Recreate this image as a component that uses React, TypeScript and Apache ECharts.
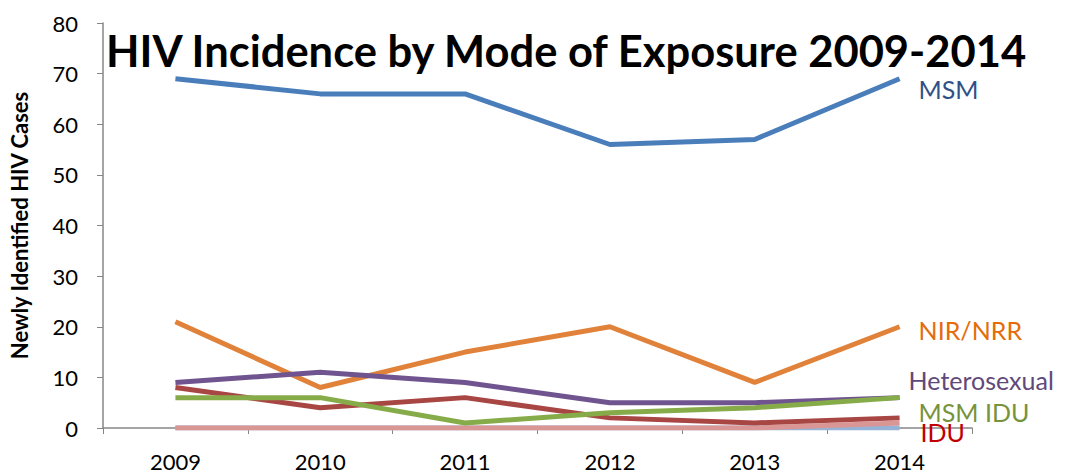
import React, { useEffect, useRef } from "react";
import * as echarts from "echarts";

const years = ["2009", "2010", "2011", "2012", "2013", "2014"];
const msm = [69, 66, 66, 56, 57, 69];
const nirNrr = [21, 8, 15, 20, 9, 20];
const hetero = [9, 11, 9, 5, 5, 6];
const idu = [8, 4, 6, 2, 1, 2];
const msmIdu = [6, 6, 1, 3, 4, 6];
const other1 = [0, 0, 0, 0, 0, 0];
const other2 = [0, 0, 0, 0, 0, 1];

const FONT = "Lato";

export default function App() {
  const ref = useRef<HTMLDivElement>(null);
  useEffect(() => {
    const chart = echarts.init(ref.current!, null, { renderer: "svg" });
    const line = (name: string, data: number[], color: string, label?: any) => ({
      name,
      type: "line",
      data,
      symbol: "none",
      lineStyle: { color, width: 5 },
      itemStyle: { color },
      endLabel: label
        ? {
            show: true,
            formatter: name,
            color: label.color,
            fontFamily: FONT,
            fontSize: 25,
            distance: label.distance,
            offset: label.offset,
          }
        : { show: false },
    });
    chart.setOption({
      animation: false,
      title: {
        text: "HIV Incidence by Mode of Exposure 2009-2014",
        left: 101,
        top: 23,
        textStyle: { fontFamily: FONT, fontWeight: "bold", fontSize: 43.5, color: "#000" },
      },
      grid: { left: 95, right: 95, top: 23, bottom: 46, containLabel: false },
      xAxis: {
        type: "category",
        data: years,
        boundaryGap: true,
        axisLine: { lineStyle: { color: "#868686", width: 1.5 } },
        axisTick: { show: true, length: 6, lineStyle: { color: "#868686" } },
        axisLabel: { fontFamily: FONT, fontSize: 22, color: "#000", margin: 22 },
      },
      yAxis: {
        type: "value",
        min: 0,
        max: 80,
        interval: 10,
        name: "Newly Identified HIV Cases",
        nameLocation: "middle",
        nameGap: 73,
        nameTextStyle: { fontFamily: FONT, fontWeight: "bold", fontSize: 22, color: "#000" },
        axisLine: { show: true, lineStyle: { color: "#868686", width: 1.5 } },
        axisTick: { show: true, length: 6, lineStyle: { color: "#868686" } },
        axisLabel: { fontFamily: FONT, fontSize: 22, color: "#000", margin: 25 },
        splitLine: { show: false },
      },
      series: [
        line("Other", other1, "#95B3D7"),
        line("Other2", other2, "#D99694"),
        line("MSM", msm, "#4A7EBB", { color: "#2F5188", distance: 19, offset: [0, 10] }),
        line("NIR/NRR", nirNrr, "#E0823A", { color: "#E46C0A", distance: 19, offset: [0, 3] }),
        line("Heterosexual", hetero, "#6F548F", { color: "#5F497A", distance: 9, offset: [0, -18] }),
        line("IDU", idu, "#A84644", { color: "#C00000", distance: 21, offset: [0, 14] }),
        line("MSM IDU", msmIdu, "#86AC49", { color: "#77933C", distance: 19, offset: [0, 14] }),
      ],
    });
    return () => chart.dispose();
  }, []);
  return <div ref={ref} style={{ width: 1067, height: 474, position: "absolute", left: 0, top: 0 }} />;
}
